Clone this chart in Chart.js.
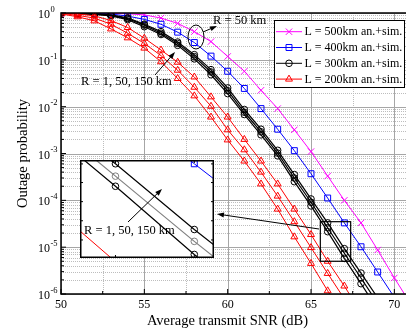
<!DOCTYPE html>
<html>
<head>
<meta charset="utf-8">
<script src="https://cdn.jsdelivr.net/npm/chart.js@4.4.0/dist/chart.umd.min.js"></script>
<style>
  html, body { margin: 0; padding: 0; background: #fff; }
  #wrap { position: relative; width: 406px; height: 329px; overflow: hidden; }
  #main { position: absolute; left: 0; top: 0; }
  #inset { position: absolute; left: 80px; top: 160px; }
</style>
</head>
<body>
<div id="wrap">
  <canvas id="main" width="406" height="329"></canvas>
  <canvas id="inset" width="134" height="98"></canvas>
</div>
<script>
// Average transmit SNR (dB), one point per dB
const snr = [50, 51, 52, 53, 54, 55, 56, 57, 58, 59, 60, 61, 62, 63, 64, 65, 66, 67, 68, 69, 70, 71];

// L = 500 km (R = 50 km)
const l500 = [1.0, 0.995, 0.99, 0.975, 0.965, 0.91, 0.78, 0.60, 0.40, 0.245, 0.118, 0.057, 0.0224,
  9.1e-3, 3.2e-3, 1.1e-3, 3.3e-4, 1.0e-4, 3.3e-5, 8.7e-6, 2.2e-6, 6.0e-7];
// L = 400 km (R = 50 km)
const l400 = [1.0, 0.99, 0.98, 0.95, 0.86, 0.73, 0.575, 0.39, 0.234, 0.12, 0.057, 0.0245, 9.1e-3,
  3.3e-3, 1.15e-3, 3.7e-4, 1.12e-4, 3.3e-5, 1.02e-5, 2.95e-6, 8.5e-7];
// L = 300 km, R = 1, 50, 150 km
const l300r1 = [0.995, 0.966, 0.933, 0.87, 0.72, 0.51, 0.347, 0.204, 0.105, 0.048, 0.019, 6.8e-3,
  2.5e-3, 8.9e-4, 2.5e-4, 7.6e-5, 2.14e-5, 5.75e-6, 1.66e-6, 4.7e-7];
const l300r50 = [1.0, 0.977, 0.944, 0.89, 0.76, 0.55, 0.37, 0.224, 0.117, 0.055, 0.0219, 7.6e-3,
  2.9e-3, 1.02e-3, 3.0e-4, 9.1e-5, 2.6e-5, 7.4e-6, 2.2e-6, 6.3e-7];
const l300r150 = [1.0, 0.98, 0.955, 0.91, 0.79, 0.575, 0.40, 0.24, 0.129, 0.0617, 0.0251, 8.7e-3,
  3.3e-3, 1.17e-3, 3.55e-4, 1.07e-4, 3.3e-5, 9.3e-6, 2.8e-6, 8.3e-7];
// L = 200 km, R = 1, 50, 150 km
const l200r1 = [0.955, 0.83, 0.68, 0.457, 0.295, 0.178, 0.091, 0.040, 0.017, 6.0e-3, 1.95e-3,
  6.9e-4, 2.24e-4, 6.5e-5, 1.66e-5, 4.5e-6, 1.17e-6, 3.2e-7];
const l200r50 = [0.98, 0.89, 0.78, 0.575, 0.37, 0.224, 0.123, 0.060, 0.026, 0.0102, 3.2e-3, 1.2e-3,
  4.0e-4, 1.23e-4, 3.5e-5, 9.8e-6, 2.75e-6, 7.9e-7];
const l200r150 = [1.0, 0.955, 0.87, 0.69, 0.49, 0.29, 0.162, 0.089, 0.043, 0.0162, 6.0e-3, 2.0e-3,
  6.9e-4, 2.24e-4, 6.5e-5, 1.86e-5, 5.0e-6, 1.48e-6, 4.0e-7];

const xTicks = [50, 55, 60, 65, 70];
const xMinor = [52.5, 57.5, 62.5, 67.5];
const yExps = [0, -1, -2, -3, -4, -5, -6];
const legendLabels = ['L = 500km an.+sim.', 'L = 400km an.+sim.', 'L = 300km an.+sim.', 'L = 200km an.+sim.'];
const legendColors = ['#ff00ff', '#0000ff', '#000000', '#ff0000'];
const legendMarkers = ['crossRot', 'rect', 'circle', 'triangle'];

const serif = '"Liberation Serif", "Times New Roman", serif';
const radii = { crossRot: 4.5, rect: 4.2, circle: 3.3, triangle: 4 };

function series(vals, color, marker, width) {
  return {
    data: vals.map((v, i) => ({ x: snr[i], y: v })),
    borderColor: color,
    backgroundColor: 'rgba(0,0,0,0)',
    borderWidth: width || 1,
    pointStyle: marker,
    pointRadius: radii[marker],
    pointBorderColor: color,
    pointBackgroundColor: 'rgba(0,0,0,0)',
    pointBorderWidth: 1,
    tension: 0
  };
}

function buildSets(midColor) {
  return [
    series(l200r1, '#ff0000', 'triangle'),
    series(l200r50, '#ff0000', 'triangle'),
    series(l200r150, '#ff0000', 'triangle'),
    series(l300r1, '#000000', 'circle', 1.2),
    series(l300r50, midColor, 'circle', 1.2),
    series(l300r150, '#000000', 'circle', 1.2),
    series(l400, '#0000ff', 'rect'),
    series(l500, '#ff00ff', 'crossRot')
  ];
}

function marker(ctx, type, x, y, color) {
  const r = radii[type];
  ctx.save();
  ctx.strokeStyle = color;
  ctx.lineWidth = 1;
  ctx.beginPath();
  if (type === 'crossRot') {
    const d = r * Math.SQRT1_2;
    ctx.moveTo(x - d, y - d); ctx.lineTo(x + d, y + d);
    ctx.moveTo(x + d, y - d); ctx.lineTo(x - d, y + d);
  } else if (type === 'rect') {
    const s = r * Math.SQRT1_2;
    ctx.rect(x - s, y - s, 2 * s, 2 * s);
  } else if (type === 'circle') {
    ctx.arc(x, y, r, 0, Math.PI * 2);
  } else {
    for (let k = 0; k < 3; k++) {
      const a = k * 2 * Math.PI / 3;
      const px = x + Math.sin(a) * r, py = y - Math.cos(a) * r;
      k === 0 ? ctx.moveTo(px, py) : ctx.lineTo(px, py);
    }
    ctx.closePath();
  }
  ctx.stroke();
  ctx.restore();
}

function arrow(ctx, x1, y1, x2, y2) {
  const ang = Math.atan2(y2 - y1, x2 - x1);
  const len = 7, half = 2.5;
  ctx.save();
  ctx.strokeStyle = '#000';
  ctx.fillStyle = '#000';
  ctx.lineWidth = 1;
  ctx.beginPath();
  ctx.moveTo(x1, y1);
  ctx.lineTo(x2 - Math.cos(ang) * len * 0.8, y2 - Math.sin(ang) * len * 0.8);
  ctx.stroke();
  ctx.beginPath();
  ctx.moveTo(x2, y2);
  ctx.lineTo(x2 - Math.cos(ang) * len - Math.sin(ang) * half, y2 - Math.sin(ang) * len + Math.cos(ang) * half);
  ctx.lineTo(x2 - Math.cos(ang) * len + Math.sin(ang) * half, y2 - Math.sin(ang) * len - Math.cos(ang) * half);
  ctx.closePath();
  ctx.fill();
  ctx.restore();
}

const decor = {
  id: 'decor',
  beforeDatasetsDraw(chart) {
    const { ctx, chartArea: a, scales: { x, y } } = chart;
    ctx.save();
    ctx.lineWidth = 1;
    // minor grid, dotted
    ctx.strokeStyle = '#bdbdbd';
    ctx.setLineDash([1, 1]);
    ctx.beginPath();
    for (let e = -6; e < 0; e++) {
      for (let m = 2; m < 10; m++) {
        const yy = Math.round(y.getPixelForValue(m * Math.pow(10, e))) + 0.5;
        ctx.moveTo(a.left, yy); ctx.lineTo(a.right, yy);
      }
    }
    xMinor.forEach(v => {
      const xx = Math.round(x.getPixelForValue(v)) + 0.5;
      ctx.moveTo(xx, a.top); ctx.lineTo(xx, a.bottom);
    });
    ctx.stroke();
    // major grid, solid
    ctx.setLineDash([]);
    ctx.strokeStyle = '#a6a6a6';
    ctx.beginPath();
    yExps.forEach(e => {
      const yy = Math.round(y.getPixelForValue(Math.pow(10, e))) + 0.5;
      ctx.moveTo(a.left, yy); ctx.lineTo(a.right, yy);
    });
    xTicks.forEach(v => {
      const xx = Math.round(x.getPixelForValue(v)) + 0.5;
      ctx.moveTo(xx, a.top); ctx.lineTo(xx, a.bottom);
    });
    ctx.stroke();
    ctx.restore();
  },
  afterDatasetsDraw(chart) {
    const { ctx, chartArea: a, scales: { x, y } } = chart;
    ctx.save();
    // frame
    ctx.strokeStyle = '#000';
    ctx.lineWidth = 1.5;
    ctx.strokeRect(a.left, a.top, a.right - a.left + 2, a.bottom - a.top);
    // inward ticks
    ctx.lineWidth = 1;
    ctx.beginPath();
    for (let e = -6; e <= 0; e++) {
      const yy = y.getPixelForValue(Math.pow(10, e));
      ctx.moveTo(a.left, yy); ctx.lineTo(a.left + 5, yy);
      if (e < 0) {
        for (let m = 2; m < 10; m++) {
          const ym = y.getPixelForValue(m * Math.pow(10, e));
          ctx.moveTo(a.left, ym); ctx.lineTo(a.left + 3, ym);
        }
      }
    }
    xTicks.forEach(v => {
      const xx = x.getPixelForValue(v);
      ctx.moveTo(xx, a.bottom); ctx.lineTo(xx, a.bottom - 5);
    });
    xMinor.forEach(v => {
      const xx = x.getPixelForValue(v);
      ctx.moveTo(xx, a.bottom); ctx.lineTo(xx, a.bottom - 3);
    });
    ctx.stroke();

    // tick labels
    ctx.fillStyle = '#000';
    ctx.font = '12px ' + serif;
    ctx.textAlign = 'center';
    ctx.textBaseline = 'middle';
    xTicks.forEach(v => ctx.fillText(String(v), x.getPixelForValue(v), a.bottom + 11));
    yExps.forEach(e => {
      const yy = y.getPixelForValue(Math.pow(10, e));
      ctx.font = '12px ' + serif;
      ctx.textAlign = 'right';
      ctx.fillText('10', 50, yy + 2);
      ctx.font = '8.5px ' + serif;
      ctx.textAlign = 'left';
      ctx.fillText(String(e), 50.5, yy - 3.5);
    });

    // axis titles
    ctx.font = '14.5px ' + serif;
    ctx.textAlign = 'center';
    ctx.fillText('Average transmit SNR (dB)', (a.left + 394) / 2, 321);
    ctx.save();
    ctx.translate(23, (a.top + a.bottom) / 2);
    ctx.rotate(-Math.PI / 2);
    ctx.fillText('Outage probability', 0, 0);
    ctx.restore();

    // annotations
    ctx.font = '12.5px ' + serif;
    ctx.textAlign = 'left';
    ctx.fillText('R = 50 km', 213, 21);
    ctx.fillText('R = 1, 50, 150 km', 81, 82);
    ctx.lineWidth = 1;
    ctx.strokeStyle = '#000';
    ctx.beginPath();
    ctx.ellipse(196, 37, 8, 12, 0, 0, Math.PI * 2);
    ctx.stroke();
    arrow(ctx, 203, 32, 217, 26);
    arrow(ctx, 155, 75, 175, 52);
    // zoom window and pointer to the inset
    ctx.lineWidth = 1.2;
    ctx.strokeRect(x.getPixelForValue(65.56), y.getPixelForValue(3.5e-5),
      x.getPixelForValue(67.38) - x.getPixelForValue(65.56), y.getPixelForValue(5.0e-6) - y.getPixelForValue(3.5e-5));
    arrow(ctx, 319, 229, 217, 214);

    // legend
    ctx.fillStyle = '#fff';
    ctx.fillRect(274.5, 20.5, 130, 67);
    ctx.strokeStyle = '#000';
    ctx.lineWidth = 1;
    ctx.strokeRect(274.5, 20.5, 130, 67);
    legendLabels.forEach((t, i) => {
      const ly = 31.7 + i * 15.8;
      ctx.strokeStyle = legendColors[i];
      ctx.beginPath();
      ctx.moveTo(276, ly); ctx.lineTo(302, ly);
      ctx.stroke();
      marker(ctx, legendMarkers[i], 289, ly, legendColors[i]);
      ctx.fillStyle = '#000';
      ctx.font = '12px ' + serif;
      ctx.fillText(t, 304.5, ly + 0.5);
    });
    ctx.restore();
  }
};

new Chart(document.getElementById('main'), {
  type: 'line',
  data: { datasets: buildSets('#000000') },
  options: {
    responsive: false,
    animation: false,
    layout: { autoPadding: false, padding: { top: 13, left: 0, right: 0, bottom: 0 } },
    plugins: { legend: { display: false }, tooltip: { enabled: false } },
    scales: {
      x: {
        type: 'linear', min: 50, max: 70.7,
        ticks: { display: false }, grid: { display: false }, border: { display: false },
        afterFit(s) { s.height = 35; }
      },
      y: {
        type: 'logarithmic', min: 1e-6, max: 1,
        ticks: { display: false }, grid: { display: false }, border: { display: false },
        afterFit(s) { s.width = 61; }
      }
    }
  },
  plugins: [decor]
});

const insetDecor = {
  id: 'insetDecor',
  beforeDraw(chart) {
    const { ctx, width, height } = chart;
    ctx.save();
    ctx.fillStyle = '#fff';
    ctx.fillRect(0, 0, width, height);
    ctx.restore();
  },
  afterDatasetsDraw(chart) {
    const { ctx, width, height, scales: { x } } = chart;
    ctx.save();
    ctx.strokeStyle = '#000';
    ctx.lineWidth = 1.5;
    ctx.strokeRect(0.75, 0.75, width - 1.5, height - 1.5);
    ctx.lineWidth = 1;
    ctx.beginPath();
    [66, 67].forEach(v => {
      const xx = x.getPixelForValue(v);
      ctx.moveTo(xx, height); ctx.lineTo(xx, height - 3);
      ctx.moveTo(xx, 0); ctx.lineTo(xx, 3);
    });
    [0.04, 0.23, 0.425, 0.62, 0.816].forEach(f => {
      const yy = f * height;
      ctx.moveTo(0, yy); ctx.lineTo(3, yy);
      ctx.moveTo(width, yy); ctx.lineTo(width - 3, yy);
    });
    ctx.stroke();
    ctx.fillStyle = '#000';
    ctx.font = '12.5px ' + serif;
    ctx.textBaseline = 'middle';
    ctx.fillText('R = 1, 50, 150 km', 4, 71);
    arrow(ctx, 48, 62, 82, 29);
    ctx.restore();
  }
};

new Chart(document.getElementById('inset'), {
  type: 'line',
  data: { datasets: buildSets('#808080') },
  options: {
    responsive: false,
    animation: false,
    layout: { autoPadding: false, padding: 0 },
    plugins: { legend: { display: false }, tooltip: { enabled: false } },
    scales: {
      x: { type: 'linear', min: 65.55, max: 67.25, display: false },
      y: { type: 'logarithmic', min: 5.37e-6, max: 3.55e-5, display: false }
    }
  },
  plugins: [insetDecor]
});
</script>
</body>
</html>
